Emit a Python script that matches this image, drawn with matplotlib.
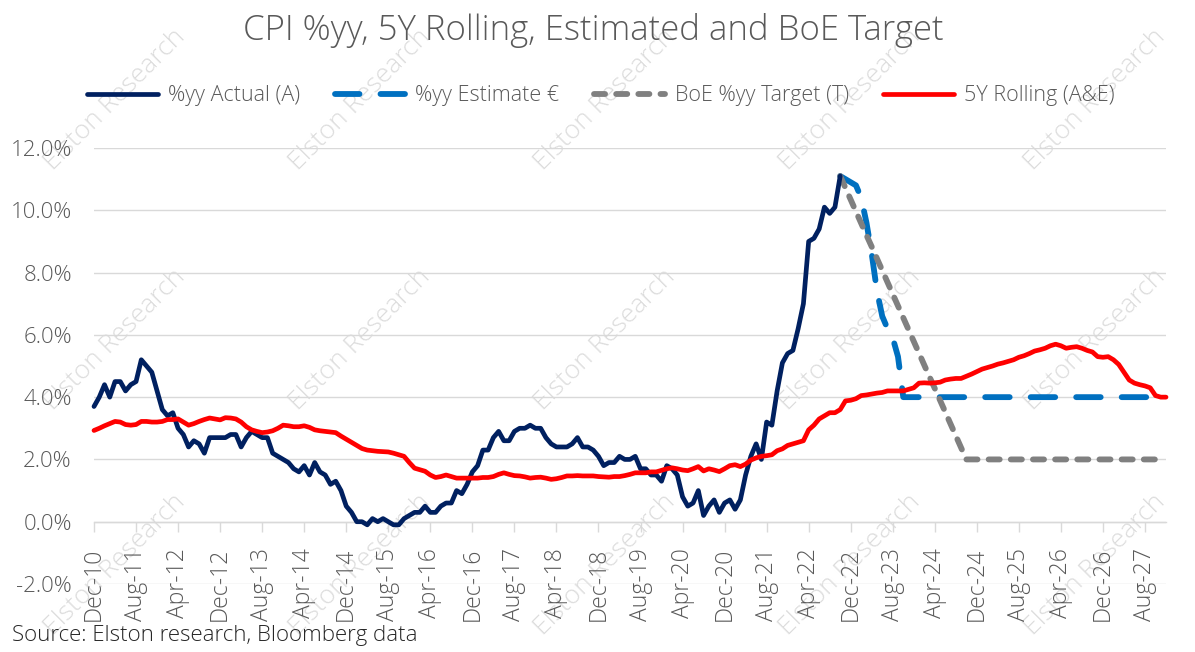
import numpy as np
import pandas as pd
import matplotlib
matplotlib.use("Agg")
import matplotlib.pyplot as plt

plt.rcParams['font.family'] = ['Open Sans', 'DejaVu Sans']
plt.rcParams['font.weight'] = 'light'

# monthly, Dec-10 .. Dec-27
months = pd.date_range('2010-12-01', periods=205, freq='MS')

# CPI %yy actual, Dec-10 .. Oct-22
actual = [3.7,
          4.0, 4.4, 4.0, 4.5, 4.5, 4.2, 4.4, 4.5, 5.2, 5.0, 4.8, 4.2,
          3.6, 3.4, 3.5, 3.0, 2.8, 2.4, 2.6, 2.5, 2.2, 2.7, 2.7, 2.7,
          2.7, 2.8, 2.8, 2.4, 2.7, 2.9, 2.8, 2.7, 2.7, 2.2, 2.1, 2.0,
          1.9, 1.7, 1.6, 1.8, 1.5, 1.9, 1.6, 1.5, 1.2, 1.3, 1.0, 0.5,
          0.3, 0.0, 0.0, -0.1, 0.1, 0.0, 0.1, 0.0, -0.1, -0.1, 0.1, 0.2,
          0.3, 0.3, 0.5, 0.3, 0.3, 0.5, 0.6, 0.6, 1.0, 0.9, 1.2, 1.6,
          1.8, 2.3, 2.3, 2.7, 2.9, 2.6, 2.6, 2.9, 3.0, 3.0, 3.1, 3.0,
          3.0, 2.7, 2.5, 2.4, 2.4, 2.4, 2.5, 2.7, 2.4, 2.4, 2.3, 2.1,
          1.8, 1.9, 1.9, 2.1, 2.0, 2.0, 2.1, 1.7, 1.7, 1.5, 1.5, 1.3,
          1.8, 1.7, 1.5, 0.8, 0.5, 0.6, 1.0, 0.2, 0.5, 0.7, 0.3, 0.6,
          0.7, 0.4, 0.7, 1.5, 2.1, 2.5, 2.0, 3.2, 3.1, 4.2, 5.1, 5.4,
          5.5, 6.2, 7.0, 9.0, 9.1, 9.4, 10.1, 9.9, 10.1, 11.1]

# %yy estimate, Oct-22 .. Dec-27
estimate = [11.1, 11.0, 10.9, 10.8, 10.4, 9.6, 8.6, 7.4, 6.6, 6.2, 5.9, 5.3, 4.0,
            4.0, 4.0, 4.0, 4.0, 4.0, 4.0, 4.0, 4.0, 4.0, 4.0,
            4.0, 4.0, 4.0, 4.0, 4.0, 4.0, 4.0, 4.0, 4.0, 4.0,
            4.0, 4.0, 4.0, 4.0, 4.0, 4.0, 4.0, 4.0, 4.0, 4.0,
            4.0, 4.0, 4.0, 4.0, 4.0, 4.0, 4.0, 4.0, 4.0, 4.0,
            4.0, 4.0, 4.0, 4.0, 4.0, 4.0, 4.0, 4.0, 4.0, 4.0]

# BoE target path, Oct-22 .. Oct-27
target = [11.1, 10.72, 10.34, 9.96, 9.58, 9.2, 8.83, 8.45, 8.07, 7.69, 7.31, 6.93,
          6.55, 6.17, 5.79, 5.41, 5.03, 4.65, 4.28, 3.9, 3.52, 3.14, 2.76, 2.38, 2.0,
          2.0, 2.0, 2.0, 2.0, 2.0, 2.0, 2.0, 2.0, 2.0, 2.0, 2.0, 2.0,
          2.0, 2.0, 2.0, 2.0, 2.0, 2.0, 2.0, 2.0, 2.0, 2.0, 2.0, 2.0,
          2.0, 2.0, 2.0, 2.0, 2.0, 2.0, 2.0, 2.0, 2.0, 2.0, 2.0, 2.0]

# 5Y rolling (A&E), Dec-10 .. Dec-27
rolling = [2.93, 3.0, 3.08, 3.15, 3.22, 3.2, 3.12, 3.1, 3.12, 3.22,
           3.22, 3.2, 3.2, 3.22, 3.28, 3.28, 3.3, 3.2, 3.1, 3.15,
           3.22, 3.28, 3.33, 3.3, 3.27, 3.34, 3.33, 3.3, 3.2, 3.05,
           2.95, 2.9, 2.86, 2.88, 2.92, 3.0, 3.1, 3.08, 3.05, 3.05,
           3.08, 3.03, 2.95, 2.92, 2.9, 2.88, 2.86, 2.75, 2.65, 2.55,
           2.45, 2.35, 2.3, 2.28, 2.26, 2.25, 2.24, 2.2, 2.15, 2.1,
           1.9, 1.72, 1.67, 1.62, 1.5, 1.42, 1.45, 1.5, 1.45, 1.4,
           1.4, 1.4, 1.4, 1.4, 1.42, 1.42, 1.45, 1.52, 1.57, 1.52,
           1.48, 1.47, 1.44, 1.4, 1.42, 1.43, 1.4, 1.36, 1.38, 1.42,
           1.47, 1.47, 1.48, 1.47, 1.47, 1.47, 1.45, 1.44, 1.43, 1.45,
           1.45, 1.48, 1.52, 1.57, 1.57, 1.57, 1.6, 1.6, 1.65, 1.7,
           1.73, 1.7, 1.66, 1.64, 1.7, 1.77, 1.63, 1.7, 1.66, 1.61,
           1.7, 1.8, 1.83, 1.77, 1.85, 1.98, 2.05, 2.1, 2.12, 2.15,
           2.28, 2.34, 2.45, 2.5, 2.55, 2.6, 2.95, 3.1, 3.3, 3.4,
           3.5, 3.5, 3.6, 3.88, 3.9, 3.95, 4.05, 4.07, 4.1, 4.13,
           4.15, 4.2, 4.2, 4.2, 4.2, 4.25, 4.3, 4.45, 4.46, 4.45,
           4.46, 4.48, 4.55, 4.58, 4.6, 4.6, 4.67, 4.74, 4.82, 4.9,
           4.95, 5.0, 5.06, 5.1, 5.15, 5.2, 5.28, 5.33, 5.4, 5.48,
           5.52, 5.57, 5.65, 5.7, 5.65, 5.57, 5.6, 5.62, 5.57, 5.5,
           5.45, 5.3, 5.28, 5.3, 5.2, 5.05, 4.8, 4.55, 4.45, 4.4,
           4.36, 4.3, 4.05, 4.0, 4.0]

labels = ['%yy Actual (A)', '%yy Estimate €', 'BoE %yy Target (T)', '5Y Rolling (A&E)']
title = 'CPI %yy, 5Y Rolling, Estimated and BoE Target'
source = 'Source: Elston research, Bloomberg data'

W, H = 1195, 652
fig = plt.figure(figsize=(W / 100, H / 100), dpi=100)
ax = fig.add_axes([94 / W, 1 - 584 / H, (1166 - 94) / W, (584 - 148) / H])

txt_gray = '#595959'
grid_gray = '#d9d9d9'

# watermark
for wy in [100, 340, 565]:
    for wx in [115, 360, 605, 850, 1095]:
        ax.text(wx / W, 1 - wy / H, 'Elston Research', transform=fig.transFigure,
                rotation=45, ha='center', va='center', fontsize=19,
                color='#dcdcdc', zorder=0.2, clip_on=False)

est_start = len(actual) - 1
xa = np.arange(len(actual))
xe = np.arange(est_start, est_start + len(estimate))
xt = np.arange(est_start, est_start + len(target))
xr = np.arange(len(rolling))

l_act, = ax.plot(xa, actual, color='#002060', lw=3.4, solid_joinstyle='round',
                 solid_capstyle='round', zorder=4, clip_on=False)
l_est, = ax.plot(xe, estimate, color='#0070C0', lw=4.2, dashes=(4.2, 3.6),
                 dash_capstyle='round', zorder=3, clip_on=False)
l_tgt, = ax.plot(xt, target, color='#808080', lw=4.2, dashes=(1.9, 1.9),
                 dash_capstyle='round', zorder=3, clip_on=False)
l_rol, = ax.plot(xr, rolling, color='#FF0000', lw=3.4, solid_joinstyle='round',
                 solid_capstyle='round', zorder=5, clip_on=False)

ax.set_xlim(0, len(rolling) - 1)
ax.set_ylim(-2, 12)

ticks = np.arange(0, len(months), 8)
ax.set_xticks(ticks)
ax.set_xticklabels([months[i].strftime('%b-%y') for i in ticks])
ax.set_yticks(np.arange(-2, 13, 2))
ax.set_yticklabels(['%.1f%%' % v for v in np.arange(-2, 13, 2)])

for s in ['top', 'right', 'left']:
    ax.spines[s].set_visible(False)
ax.spines['bottom'].set_position(('data', 0))
ax.spines['bottom'].set_color(grid_gray)
ax.spines['bottom'].set_linewidth(1.0)

ax.tick_params(axis='x', direction='out', length=7, width=1.0, color=grid_gray,
               labelrotation=90, labelsize=16.5, labelcolor=txt_gray, pad=12)
ax.tick_params(axis='y', length=0, labelsize=16, labelcolor=txt_gray, pad=16)
ax.yaxis.grid(True, color=grid_gray, lw=1.0)
ax.set_axisbelow(True)
ax.patch.set_alpha(0)

fig.text(593 / W, 1 - 30 / H, title, ha='center', va='center',
         fontsize=25, color=txt_gray)

fig.legend([l_act, l_est, l_tgt, l_rol], labels, loc='center',
           bbox_to_anchor=(601 / W, 1 - 96 / H), ncol=4, frameon=False,
           fontsize=15.5, handlelength=3.3, columnspacing=1.6, handletextpad=0.45,
           labelcolor=txt_gray)

fig.text(12 / W, 1 - 636 / H, source, ha='left', va='center',
         fontsize=16, color='#262626')

fig.savefig('out.png', dpi=100)
